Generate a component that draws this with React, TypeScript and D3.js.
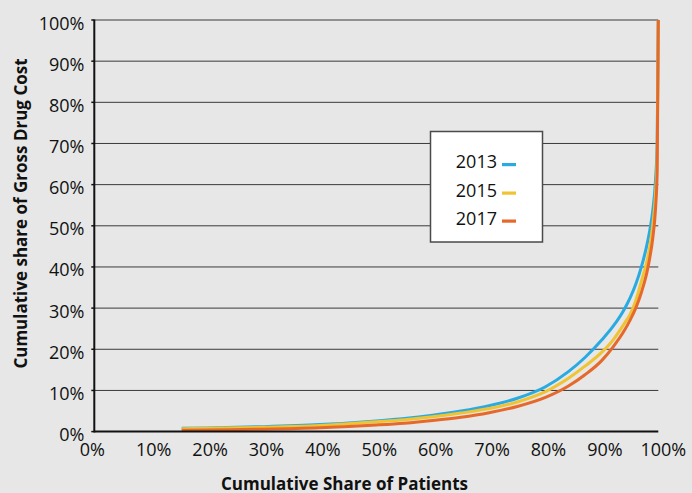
import React from "react";
import * as d3 from "d3";

const shareOfPatients = [15.5, 20, 30, 40, 50, 55, 60, 65, 70, 75, 80, 84, 87, 90, 92, 94, 95, 96, 97, 98, 98.5, 99, 99.5, 99.8, 100];
const cost2013 = [0.8, 0.9, 1.2, 1.7, 2.6, 3.2, 4.0, 5.0, 6.3, 8.1, 10.9, 14.5, 18.0, 22.3, 25.6, 29.8, 32.5, 35.8, 40.0, 45.5, 49.0, 53.5, 61.0, 70.0, 100];
const cost2015 = [0.7, 0.8, 1.05, 1.5, 2.4, 2.9, 3.6, 4.5, 5.6, 7.2, 9.7, 12.9, 15.9, 19.3, 22.3, 26.3, 28.5, 31.8, 36.5, 41.5, 45.0, 50.0, 57.5, 67.0, 100];
const cost2017 = [0.3, 0.4, 0.6, 0.95, 1.6, 2.05, 2.7, 3.5, 4.6, 6.1, 8.3, 11.0, 13.8, 17.3, 20.6, 24.6, 27.1, 30.0, 33.8, 38.8, 42.3, 46.8, 54.0, 63.0, 100];
const seriesNames = ["2013", "2015", "2017"];
const seriesColors = ["#29abe2", "#efc332", "#e6692b"];
const xTicks = [0, 10, 20, 30, 40, 50, 60, 70, 80, 90, 100];
const yTicks = [0, 10, 20, 30, 40, 50, 60, 70, 80, 90, 100];

const W = 692;
const H = 493;
const FONT = "'Open Sans', 'DejaVu Sans', sans-serif";

export default function App() {
  const x = d3.scaleLinear().domain([0, 100]).range([94.3, 658.3]);
  const y = d3.scaleLinear().domain([0, 100]).range([431.6, 20]);
  const seriesValues = [cost2013, cost2015, cost2017];
  const line = d3
    .line<[number, number]>()
    .x((d) => x(d[0]))
    .y((d) => y(d[1]))
    .curve(d3.curveMonotoneX);

  const legendX = 430.5;
  const legendY = 131.5;
  const legendW = 112;
  const legendH = 110.5;
  const rowBaselines = [168, 196.5, 224.5];

  return (
    <svg
      width={W}
      height={H}
      style={{ position: "absolute", left: 0, top: 0, display: "block" }}
      fontFamily={FONT}
    >
      <rect x={0} y={0} width={W} height={H} fill="#e6e7e6" />
      {yTicks.slice(1).map((t) => (
        <line key={"g" + t} x1={x(0)} x2={x(100)} y1={y(t)} y2={y(t)} stroke="#3a3a3a" strokeWidth={1} />
      ))}
      {yTicks.map((t) => (
        <line key={"yt" + t} x1={x(0) - 3} x2={x(0)} y1={y(t)} y2={y(t)} stroke="#111" strokeWidth={1.5} />
      ))}
      <rect x={legendX} y={legendY} width={legendW} height={legendH} fill="#ffffff" stroke="#4a4a4a" strokeWidth={1.5} />
      {seriesNames.map((name, i) => (
        <g key={name}>
          <text x={497} y={rowBaselines[i]} fontSize={18} textAnchor="end" fill="#111">
            {name}
          </text>
          <rect x={502} y={rowBaselines[i] - 5} width={14} height={3.2} fill={seriesColors[i]} />
        </g>
      ))}
      {seriesValues.map((vals, i) => (
        <path
          key={seriesNames[i]}
          d={line(shareOfPatients.map((p, j) => [p, vals[j]] as [number, number])) || ""}
          fill="none"
          stroke={seriesColors[i]}
          strokeWidth={3}
          strokeLinejoin="round"
        />
      ))}
      <line x1={x(0)} x2={x(0)} y1={y(100) - 0.5} y2={y(0) + 1} stroke="#111" strokeWidth={2} />
      <line x1={x(0)} x2={x(100)} y1={y(0)} y2={y(0)} stroke="#111" strokeWidth={2} />
      {yTicks.map((t) => (
        <text key={"yl" + t} x={84.5} y={y(t) + 9.5} fontSize={18} textAnchor="end" fill="#111">
          {t + "%"}
        </text>
      ))}
      {xTicks.map((t) => (
        <text key={"xl" + t} x={x(t) + (t === 0 ? -2 : t === 100 ? 5 : 3)} y={456} fontSize={18} textAnchor="middle" fill="#111">
          {t + "%"}
        </text>
      ))}
      <text x={344.5} y={489.5} fontSize={17} fontWeight="bold" textAnchor="middle" fill="#111">
        Cumulative Share of Patients
      </text>
      <text
        transform={`translate(26.5, 213.5) rotate(-90)`}
        fontSize={17}
        fontWeight="bold"
        textAnchor="middle"
        fill="#111"
      >
        Cumulative share of Gross Drug Cost
      </text>
    </svg>
  );
}
